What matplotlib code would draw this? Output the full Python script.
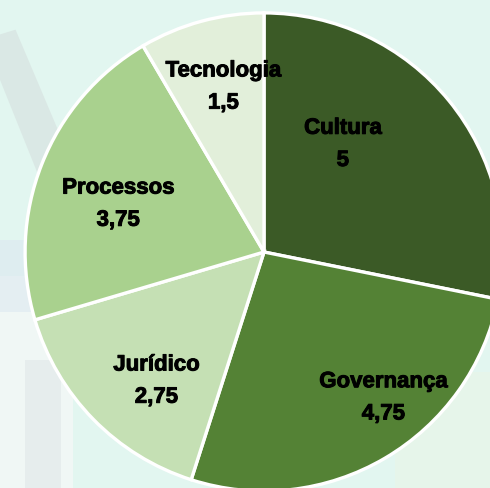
import matplotlib.pyplot as plt
import matplotlib.patheffects as pe
from matplotlib.patches import Polygon

categories = ['Cultura', 'Governança', 'Jurídico', 'Processos', 'Tecnologia']
values = [5, 4.75, 2.75, 3.75, 1.5]
value_labels = ['5', '4,75', '2,75', '3,75', '1,5']

colors = ['#3b5a26', '#548235', '#c5e0b4', '#a9d18e', '#e2efda']
# label centres, in units of the pie radius
label_pos = [(0.33, 0.45), (0.50, -0.61), (-0.45, -0.54), (-0.61, 0.20), (-0.17, 0.69)]

fig = plt.figure(figsize=(4.9, 4.88), dpi=100)
fig.patch.set_facecolor('#e2f6f0')
ax = fig.add_axes([0, 0, 1, 1])
ax.set_facecolor('#e2f6f0')

# faint watermark shapes in the background
ax.add_patch(Polygon([(-1.11, -0.1), (-0.8, -0.1), (-0.8, -1.0), (-1.11, -1.0)],
                     closed=True, color='#f0f7f5', lw=0, zorder=0))
ax.add_patch(Polygon([(-1.105, 0.91), (-1.04, 0.93), (-0.79, 0.34), (-0.92, 0.26), (-1.105, 0.72)],
                     closed=True, color='#d6dfde', alpha=0.6, lw=0, zorder=0))
ax.add_patch(Polygon([(-1.11, 0.05), (-0.95, 0.05), (-0.95, -0.25), (-1.11, -0.25)],
                     closed=True, color='#dce8f0', alpha=0.6, lw=0, zorder=0))
ax.add_patch(Polygon([(-1.0, -0.45), (-0.85, -0.45), (-0.85, -1.0), (-1.0, -1.0)],
                     closed=True, color='#dde5e6', alpha=0.5, lw=0, zorder=0))
ax.add_patch(Polygon([(0.55, -0.5), (0.95, -0.5), (0.95, -1.0), (0.55, -1.0)],
                     closed=True, color='#e6f5ea', lw=0, zorder=0))

wedges, _ = ax.pie(values, colors=colors, startangle=90, counterclock=False,
                   radius=1.0, center=(0, 0),
                   wedgeprops=dict(edgecolor='white', linewidth=2.4))

for name, val, (x, y) in zip(categories, value_labels, label_pos):
    ax.text(x, y, name + '\n' + val, ha='center', va='center',
            fontsize=16, fontweight='bold', family='Liberation Sans',
            color='black', linespacing=1.7,
            path_effects=[pe.withStroke(linewidth=0.7, foreground='black')])

ax.set_xlim(-1.105, 0.946)
ax.set_ylim(-0.987, 1.054)
ax.set_aspect('auto')
ax.axis('off')

fig.savefig('out.png', dpi=100, facecolor=fig.get_facecolor())
